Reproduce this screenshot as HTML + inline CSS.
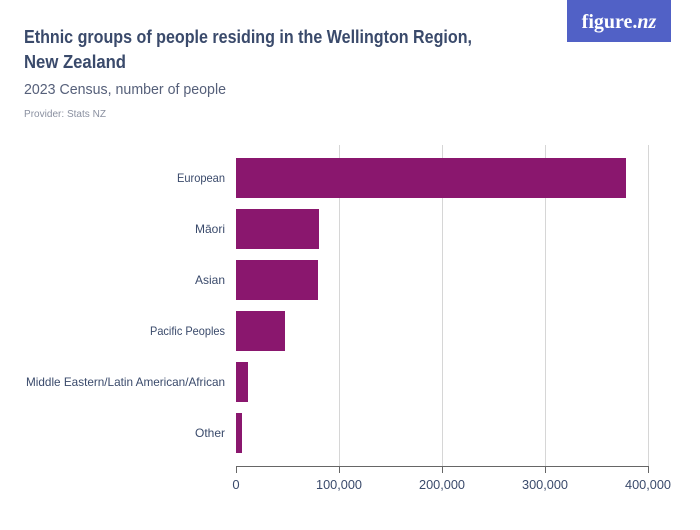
<!DOCTYPE html>
<html><head><meta charset="utf-8"><style>
body{margin:0;background:#fff;width:700px;height:525px;overflow:hidden;font-family:"Liberation Sans",sans-serif;}
</style></head><body>
<svg width="700" height="525" xmlns="http://www.w3.org/2000/svg" font-family="Liberation Sans, sans-serif">
<text x="24" y="43" font-size="18" font-weight="bold" fill="#3a4a6b" textLength="448" lengthAdjust="spacingAndGlyphs">Ethnic groups of people residing in the Wellington Region,</text>
<text x="24" y="68" font-size="18" font-weight="bold" fill="#3a4a6b" textLength="102" lengthAdjust="spacingAndGlyphs">New Zealand</text>
<text x="24" y="94" font-size="15" fill="#56607a" textLength="202" lengthAdjust="spacingAndGlyphs">2023 Census, number of people</text>
<text x="24" y="117" font-size="10" fill="#8a90a0" textLength="82" lengthAdjust="spacingAndGlyphs">Provider: Stats NZ</text>
<rect x="567" y="0" width="104" height="42" fill="#5161c6"/>
<text x="619" y="28" font-size="20" font-family="Liberation Serif, serif" font-weight="bold" fill="#fff" text-anchor="middle">figure.<tspan font-style="italic">nz</tspan></text>
<g stroke="#d6d6d6" stroke-width="1">
<line x1="339.5" y1="145" x2="339.5" y2="466"/>
<line x1="442.5" y1="145" x2="442.5" y2="466"/>
<line x1="545.5" y1="145" x2="545.5" y2="466"/>
<line x1="648.5" y1="145" x2="648.5" y2="466"/>
</g>
<g fill="#8a176e">
<rect x="236" y="158" width="390" height="40"/>
<rect x="236" y="209" width="83" height="40"/>
<rect x="236" y="260" width="82" height="40"/>
<rect x="236" y="311" width="49" height="40"/>
<rect x="236" y="362" width="12" height="40"/>
<rect x="236" y="413" width="6" height="40"/>
</g>
<g stroke="#666" stroke-width="1">
<line x1="236" y1="466.5" x2="649" y2="466.5"/>
<line x1="236.5" y1="466" x2="236.5" y2="473"/>
<line x1="339.5" y1="466" x2="339.5" y2="473"/>
<line x1="442.5" y1="466" x2="442.5" y2="473"/>
<line x1="545.5" y1="466" x2="545.5" y2="473"/>
<line x1="648.5" y1="466" x2="648.5" y2="473"/>
</g>
<g font-size="13" fill="#3a4a6b" text-anchor="middle">
<text x="236" y="489">0</text>
<text x="339" y="489" textLength="46" lengthAdjust="spacingAndGlyphs">100,000</text>
<text x="442" y="489" textLength="46" lengthAdjust="spacingAndGlyphs">200,000</text>
<text x="545" y="489" textLength="46" lengthAdjust="spacingAndGlyphs">300,000</text>
<text x="648" y="489" textLength="46" lengthAdjust="spacingAndGlyphs">400,000</text>
</g>
<g font-size="12" fill="#3a4a6b" text-anchor="end">
<text x="225" y="182" textLength="48" lengthAdjust="spacingAndGlyphs">European</text>
<text x="225" y="233">Māori</text>
<text x="225" y="284">Asian</text>
<text x="225" y="335" textLength="75" lengthAdjust="spacingAndGlyphs">Pacific Peoples</text>
<text x="225" y="386" textLength="199" lengthAdjust="spacingAndGlyphs">Middle Eastern/Latin American/African</text>
<text x="225" y="437">Other</text>
</g>
</svg>
</body></html>
